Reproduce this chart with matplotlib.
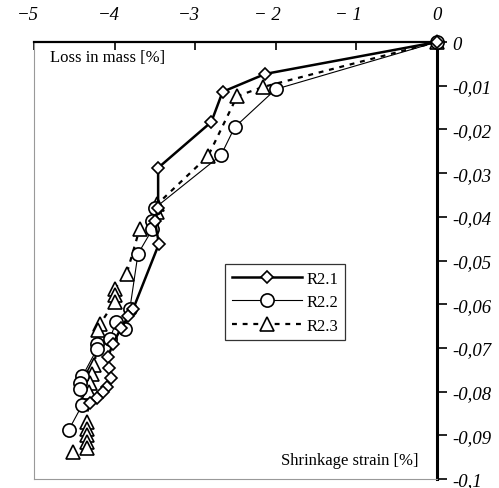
import matplotlib
matplotlib.use("Agg")
import matplotlib.pyplot as plt
import matplotlib.transforms as mtransforms

# Shrinkage strain [%] vs. loss in mass [%] for three specimens
r21_strain = [0, -2.13, -2.66, -2.80, -3.46, -3.46, -3.50, -3.45, -3.77, -3.83, -3.92,
              -4.02, -4.08, -4.07, -4.05, -4.10, -4.15, -4.22, -4.30]
r21_mass = [0, -0.0073, -0.0114, -0.0183, -0.0288, -0.0380, -0.0410, -0.0462, -0.0611,
            -0.0628, -0.0655, -0.0690, -0.0720, -0.0745, -0.0770, -0.0790, -0.0800,
            -0.0815, -0.0825]

r22_strain = [0, -2.00, -2.51, -2.68, -3.50, -3.53, -3.53, -3.71, -3.81, -3.87, -3.98,
              -4.06, -4.22, -4.22, -4.40, -4.43, -4.43, -4.40, -4.57]
r22_mass = [0, -0.0108, -0.0195, -0.0259, -0.0380, -0.0410, -0.0428, -0.0485, -0.0610,
            -0.0657, -0.0640, -0.0680, -0.0692, -0.0703, -0.0765, -0.0780, -0.0795,
            -0.0830, -0.0888]

r23_strain = [0, -2.16, -2.48, -2.84, -3.47, -3.47, -3.69, -3.85, -4.00, -4.00, -4.00,
              -4.18, -4.20, -4.25, -4.28, -4.30, -4.32, -4.34, -4.34, -4.34, -4.34,
              -4.34, -4.52]
r23_mass = [0, -0.0103, -0.0124, -0.0261, -0.0371, -0.0390, -0.0428, -0.0530, -0.0565,
            -0.0580, -0.0595, -0.0645, -0.0660, -0.0740, -0.0760, -0.0780, -0.0800,
            -0.0870, -0.0885, -0.0900, -0.0915, -0.0930, -0.0938]

x_ticks = [-5, -4, -3, -2, -1, 0]
x_tick_labels = ["\u22125", "\u22124", "\u22123", "\u2212 2", "\u2212 1", "0"]
y_ticks = [0, -0.01, -0.02, -0.03, -0.04, -0.05, -0.06, -0.07, -0.08, -0.09, -0.1]
y_tick_labels = ["0", "-0,01", "-0,02", "-0,03", "-0,04", "-0,05", "-0,06", "-0,07",
                 "-0,08", "-0,09", "-0,1"]

serif = ["Liberation Serif", "DejaVu Serif"]

fig = plt.figure(figsize=(4.99, 4.89), dpi=100)
ax = fig.add_axes([34 / 499, 1 - 480 / 489, (437 - 34) / 499, (480 - 43) / 489])

ax.plot(r23_strain, r23_mass, color="black", lw=1.6, dashes=[2.2, 2.6],
        marker="^", ms=10, mfc="white", mec="black", mew=1.2, label="R2.3",
        zorder=3, clip_on=False)
ax.plot(r22_strain, r22_mass, color="black", lw=0.8,
        marker="o", ms=9.5, mfc="white", mec="black", mew=1.2, label="R2.2",
        zorder=4, clip_on=False)
ax.plot(r21_strain, r21_mass, color="black", lw=1.8,
        marker="D", ms=6.5, mfc="white", mec="black", mew=1.2, label="R2.1",
        zorder=5, clip_on=False)

ax.set_xlim(-5, 0)
ax.set_ylim(-0.1, 0)

# frame: strong top and right axes, faint left and bottom edges
ax.spines["top"].set_linewidth(1.6)
ax.spines["right"].set_linewidth(2.2)
for s in ("left", "bottom"):
    ax.spines[s].set_color("#999999")
    ax.spines[s].set_linewidth(0.8)

ax.xaxis.set_ticks_position("top")
ax.xaxis.set_label_position("top")
ax.set_xticks(x_ticks)
ax.set_xticklabels(x_tick_labels, fontfamily=serif, fontstyle="italic", fontsize=13.5,
                   ha="right")
ax.tick_params(axis="x", direction="in", length=6, width=1.2, pad=14)
shift = mtransforms.ScaledTranslation(5 / 100, 0, fig.dpi_scale_trans)
for lab in ax.get_xticklabels():
    lab.set_transform(lab.get_transform() + shift)

ax.yaxis.set_ticks_position("right")
ax.set_yticks(y_ticks)
ax.set_yticklabels(y_tick_labels, fontfamily=serif, fontstyle="italic", fontsize=13.5)
ax.tick_params(axis="y", direction="out", length=7, width=1.2, pad=4)

ax.text(0.04, 0.985, "Loss in mass [%]", transform=ax.transAxes, ha="left", va="top",
        fontfamily=serif, fontsize=12)
ax.text(0.955, 0.025, "Shrinkage strain [%]", transform=ax.transAxes, ha="right",
        va="bottom", fontfamily=serif, fontsize=12)

handles, labels = ax.get_legend_handles_labels()
leg = ax.legend(handles[::-1], labels[::-1], loc="upper left",
                bbox_to_anchor=((225 - 34) / 403, 1 - (265 - 43) / 437),
                prop={"family": serif, "size": 12}, frameon=True, fancybox=False,
                edgecolor="black", handlelength=4.2, handletextpad=0.3,
                borderpad=0.4, labelspacing=0.45, borderaxespad=0)
leg.get_frame().set_linewidth(0.9)
leg.set_zorder(6)

fig.savefig("out.png", dpi=100)
